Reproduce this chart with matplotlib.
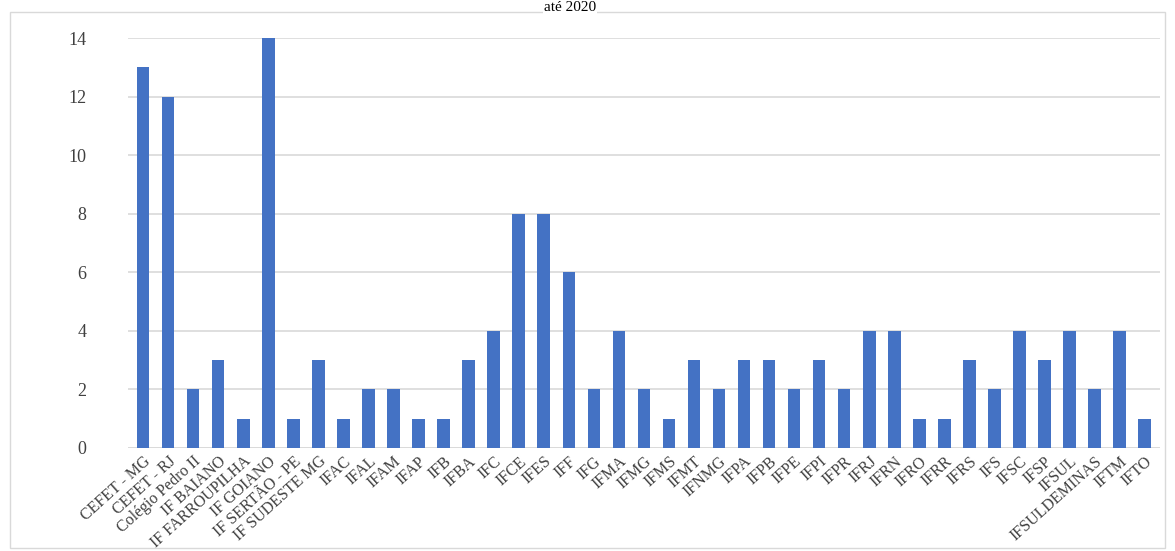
import matplotlib
matplotlib.use("Agg")
import matplotlib.pyplot as plt
from matplotlib.patches import Rectangle

categories = ["CEFET - MG", "CEFET - RJ", "Colégio Pedro II", "IF BAIANO", "IF FARROUPILHA",
              "IF GOIANO", "IF SERTÃO - PE", "IF SUDESTE MG", "IFAC", "IFAL", "IFAM", "IFAP",
              "IFB", "IFBA", "IFC", "IFCE", "IFES", "IFF", "IFG", "IFMA", "IFMG", "IFMS", "IFMT",
              "IFNMG", "IFPA", "IFPB", "IFPE", "IFPI", "IFPR", "IFRJ", "IFRN", "IFRO", "IFRR",
              "IFRS", "IFS", "IFSC", "IFSP", "IFSUL", "IFSULDEMINAS", "IFTM", "IFTO"]
values = [13, 12, 2, 3, 1, 14, 1, 3, 1, 2, 2, 1, 1, 3, 4, 8, 8, 6, 2, 4, 2, 1, 3,
          2, 3, 3, 2, 3, 2, 4, 4, 1, 1, 3, 2, 4, 3, 4, 2, 4, 1]
yticks = [0, 2, 4, 6, 8, 10, 12, 14]
title = "até 2020"

plt.rcParams['font.family'] = ['Liberation Serif', 'DejaVu Serif']

fig = plt.figure(figsize=(11.75, 5.51), dpi=100)
ax = fig.add_axes([0.109, 0.187, 0.878, 0.744])

x = list(range(len(categories)))
ax.bar(x, values, width=0.5, color='#4472C4', zorder=3)
ax.set_ylim(0, 14)
ax.set_xlim(-0.6, len(categories) - 0.4)
ax.set_yticks(yticks)
ax.set_yticklabels([str(t) for t in yticks], fontsize=13, color='#404040')
ax.set_xticks(x)
ax.set_xticklabels(categories, rotation=42, ha='right', rotation_mode='anchor',
                   fontsize=11.5, color='#404040')
ax.tick_params(axis='y', length=0, pad=30)
ax.tick_params(axis='x', length=0, pad=4)
ax.grid(axis='y', color='#D9D9D9', linewidth=1.2, zorder=0)
for s in ax.spines.values():
    s.set_visible(False)
ax.axhline(0, color='#D9D9D9', linewidth=1.2, zorder=1)

fig.patches.append(Rectangle((10 / 1175, 3 / 551), 1155 / 1175, 536 / 551,
                             transform=fig.transFigure, fill=False,
                             edgecolor='#D9D9D9', linewidth=1))
fig.text(0.485, 0.999, title, ha='center', va='top', fontsize=11, color='black',
         bbox=dict(facecolor='white', edgecolor='none', pad=0.5))

fig.savefig("out.png", dpi=100)
